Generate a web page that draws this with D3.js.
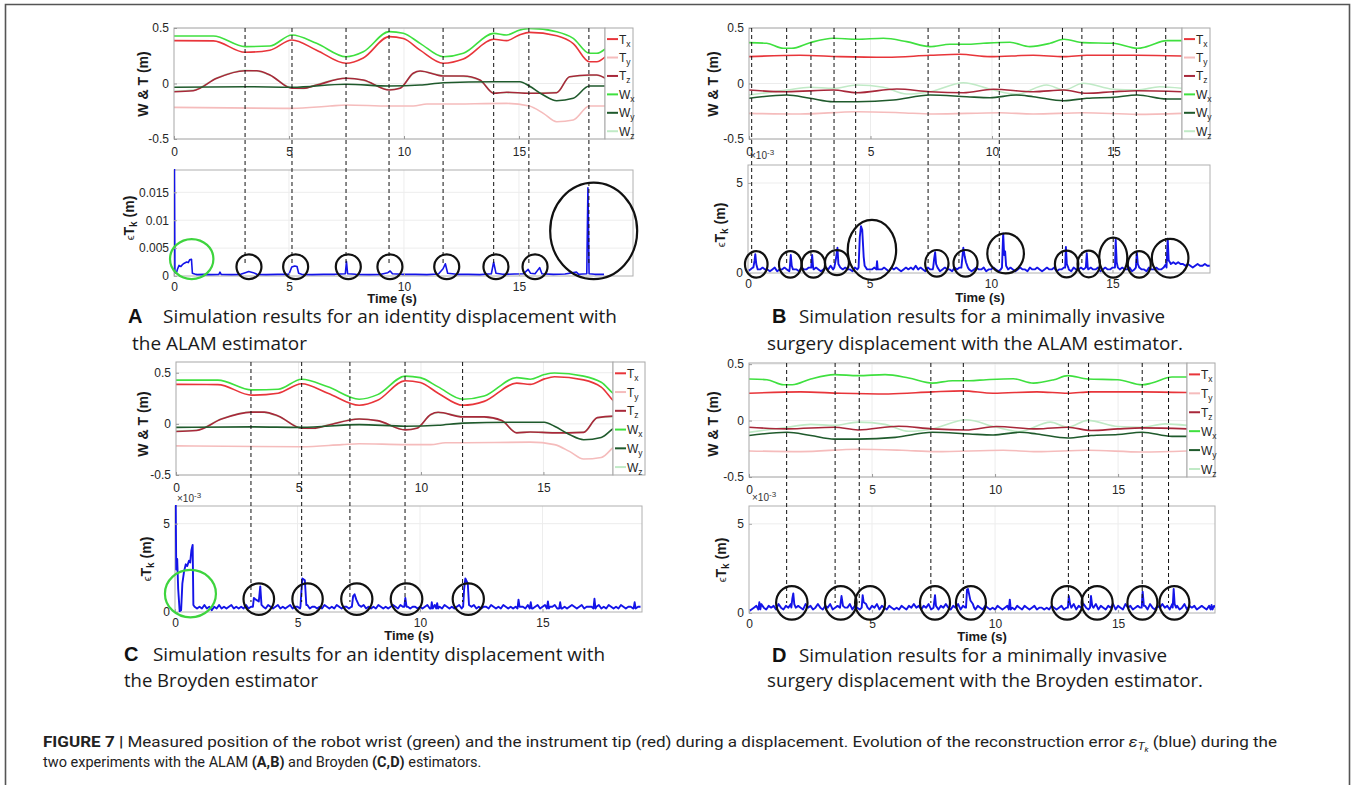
<!DOCTYPE html>
<html>
<head>
<meta charset="utf-8">
<script src="https://cdn.jsdelivr.net/npm/d3@7/dist/d3.min.js"></script>
<style>
html,body{margin:0;padding:0;background:#fff;}
svg{display:block;}
</style>
</head>
<body>
<svg id="fig" width="1352" height="785" xmlns="http://www.w3.org/2000/svg"></svg>
<script>
// ====================== DATA ======================
const timeTicks = [0, 5, 10, 15];
const posTicks = [-0.5, 0, 0.5];
const errTicksA = [0, 0.005, 0.01, 0.015];      // m
const errTicksMilli = [0, 5];                     // x10^-3 m
const legendNames = [["T","x"],["T","y"],["T","z"],["W","x"],["W","y"],["W","z"]];

// ---- identity displacement (panels A and C): position (m) vs time (s)
const id_Tx_t = [0, 1.71, 3.09, 4.17, 5.13, 6.20, 7.48, 8.23, 9.36, 9.97, 10.70, 11.71, 12.58, 13.91, 14.46, 15.04, 15.45, 16.64, 17.36, 18.06, 18.38, 18.75];
const id_Tx_v = [0.386, 0.384, 0.281, 0.300, 0.392, 0.300, 0.182, 0.230, 0.422, 0.405, 0.300, 0.182, 0.220, 0.398, 0.386, 0.440, 0.461, 0.430, 0.360, 0.196, 0.196, 0.241];
const id_Ty_t = [0, 5.13, 6.78, 7.48, 9.36, 10.4, 11.0, 11.71, 14.46, 15.45, 16.06, 16.64, 17.36, 18.06, 18.75];
const id_Ty_v = [-0.215, -0.224, -0.203, -0.194, -0.203, -0.203, -0.185, -0.185, -0.179, -0.203, -0.269, -0.344, -0.329, -0.203, -0.203];
const id_Tz_t = [0, 0.84, 1.86, 3.09, 3.6, 4.17, 5.13, 5.62, 6.20, 7.48, 8.23, 9.36, 9.83, 10.4, 10.7, 11.71, 12.58, 13.3, 13.91, 14.46, 15.45, 16.64, 17.2, 18.06, 18.38, 18.75];
const id_Tz_v = [-0.074, -0.065, 0.047, 0.115, 0.115, 0.077, -0.043, -0.043, -0.014, 0.047, 0.032, -0.059, -0.043, 0.092, 0.113, 0.068, 0.068, 0.032, -0.088, -0.079, -0.088, -0.083, 0.061, 0.077, 0.077, 0.047];
const id_Wx_t = [0, 1.71, 3.09, 4.17, 5.13, 6.20, 7.48, 8.23, 9.36, 9.97, 10.70, 11.71, 12.58, 13.91, 14.46, 15.04, 15.45, 16.64, 17.36, 18.06, 18.38, 18.75];
const id_Wx_v = [0.428, 0.428, 0.332, 0.338, 0.437, 0.362, 0.241, 0.286, 0.467, 0.452, 0.362, 0.241, 0.272, 0.452, 0.437, 0.482, 0.497, 0.467, 0.407, 0.272, 0.272, 0.311];
const id_Wy_t = [0, 3.09, 5.13, 7.48, 9.36, 10.7, 11.71, 13.91, 15.04, 15.45, 16.06, 16.64, 17.36, 18.06, 18.75];
const id_Wy_v = [-0.034, -0.029, -0.034, -0.007, -0.023, -0.014, 0.007, 0.016, 0.016, -0.023, -0.104, -0.155, -0.133, -0.023, -0.023];
const id_Wz_t = [0, 0.84, 1.86, 3.09, 3.6, 4.17, 5.13, 5.62, 6.20, 7.48, 8.23, 9.36, 9.83, 10.4, 10.7, 11.71, 12.58, 13.3, 13.91, 14.46, 15.45, 16.64, 17.2, 18.06, 18.38, 18.75];
const id_Wz_v = [-0.070, -0.060, 0.050, 0.118, 0.112, 0.074, -0.040, -0.046, -0.010, 0.050, 0.028, -0.055, -0.040, 0.088, 0.110, 0.072, 0.064, 0.030, -0.084, -0.082, -0.085, -0.080, 0.058, 0.072, 0.074, 0.050];

// ---- minimally invasive surgery displacement (panels B and D)
const mis_Tx_t = [0, 2.1, 3.74, 5.67, 7.45, 8.68, 9.92, 11.7, 12.96, 13.9, 15.98, 17.81];
const mis_Tx_v = [0.242, 0.254, 0.242, 0.236, 0.254, 0.263, 0.242, 0.254, 0.242, 0.254, 0.254, 0.248];
const mis_Ty_t = [0, 2.1, 4.43, 6.21, 7.59, 10.33, 11.7, 13.76, 15.98, 17.81];
const mis_Ty_v = [-0.269, -0.275, -0.254, -0.263, -0.275, -0.263, -0.275, -0.263, -0.278, -0.269];
const mis_Tz_t = [0, 1.55, 3.47, 4.43, 6.08, 7.45, 8.82, 10.05, 11.7, 12.96, 13.9, 14.99, 15.98, 17.81];
const mis_Tz_v = [-0.059, -0.074, -0.059, -0.083, -0.050, -0.074, -0.083, -0.052, -0.074, -0.059, -0.088, -0.074, -0.065, -0.074];
const mis_Wx_t = [0, 0.73, 1.41, 1.76, 2.51, 3.47, 4.43, 5.53, 6.49, 7.45, 8.27, 8.96, 9.64, 10.74, 11.56, 12.39, 12.96, 13.76, 14.99, 15.98, 16.37, 17.19, 17.81];
const mis_Wx_v = [0.368, 0.362, 0.317, 0.317, 0.368, 0.407, 0.398, 0.407, 0.377, 0.332, 0.353, 0.353, 0.362, 0.371, 0.332, 0.362, 0.398, 0.368, 0.362, 0.317, 0.332, 0.386, 0.386];
const mis_Wy_t = [0, 1.55, 2.51, 3.47, 4.43, 5.94, 7.45, 8.96, 9.92, 11.0, 11.7, 12.96, 13.9, 14.99, 15.98, 17.19, 17.81];
const mis_Wy_v = [-0.133, -0.104, -0.133, -0.164, -0.164, -0.149, -0.104, -0.119, -0.128, -0.104, -0.119, -0.155, -0.133, -0.124, -0.104, -0.140, -0.140];
const mis_Wz_t = [0, 1.55, 2.51, 3.47, 4.43, 5.53, 6.49, 7.45, 8.82, 10.05, 11.0, 12.25, 12.96, 13.76, 14.99, 15.98, 16.91, 17.81];
const mis_Wz_v = [-0.104, -0.059, -0.034, -0.043, -0.014, -0.034, -0.095, -0.074, 0.007, -0.059, -0.097, -0.014, -0.059, 0.002, -0.052, -0.059, -0.029, -0.043];

// ---- dashed event markers (s)
const marks_A = [3.09, 5.13, 7.48, 9.35, 11.7, 13.9, 15.43, 18.04];
const marks_B = [0.11, 1.55, 2.55, 3.5, 4.39, 7.37, 8.64, 10.3, 12.9, 13.7, 14.99, 15.94, 17.15];
const marks_C = [3.06, 5.13, 7.1, 9.35, 11.7];
const marks_D = [1.53, 3.5, 4.48, 7.39, 8.71, 12.98, 13.8, 15.98, 17.05];

// ---- reconstruction error, panel A (t in s, value in x10^-3 m)
const errA_t = [0,0.02,0.04,0.1,0.15,0.22,0.3,0.38,0.45,0.55,0.62,0.68,0.76,0.8,0.9,1.0,1.3,1.6,1.95,2.0,2.05,2.5,2.9,3.1,3.25,3.45,3.6,4.0,4.5,5.0,5.12,5.25,5.35,5.42,5.55,6.0,6.5,7.0,7.45,7.5,7.55,7.9,8.5,9.0,9.3,9.4,9.5,9.9,10.5,11.0,11.5,11.7,11.8,11.9,12.3,12.8,13.3,13.8,13.9,14.0,14.3,14.8,15.2,15.4,15.5,15.7,15.9,16.0,16.5,17.0,17.5,17.6,17.95,18.0,18.05,18.3,18.7];
const errA_v = [19.5,19.5,0.6,0.5,1.2,1.9,1.7,2.1,2.3,2.5,2.4,2.9,3.0,0.5,0.35,0.25,0.3,0.25,0.3,0.7,0.3,0.25,0.3,0.6,0.8,0.6,0.3,0.25,0.3,0.3,1.6,1.8,1.7,0.5,0.3,0.25,0.3,0.3,0.4,2.6,0.4,0.3,0.25,0.3,0.6,0.9,0.4,0.3,0.3,0.25,0.35,1.3,2.2,0.5,0.3,0.3,0.25,0.4,2.5,0.5,0.3,0.35,0.4,1.2,0.5,0.4,1.5,0.4,0.3,0.35,0.7,0.3,0.4,15.8,0.4,0.3,0.3];

// ---- reconstruction error noise floor, panels B, C, D (one sample per 0.1 s from 0 s, x10^-4 m)
const errB_floor = [1,2,3,2,1,2,3,2,2,1, 2,3,1,2,2,3,2,1,3,2, 2,1,3,2,2,3,1,2,3,2, 1,2,3,2,4,2,3,2,1,2, 3,2,2,1,3,2,2,3,1,2, 2,2,3,1,2,2,3,2,1,3, 2,3,2,1,2,3,2,3,2,4, 2,3,2,1,3,2,2,3,2,1, 2,3,2,2,1,3,2,3,2,2, 3,2,1,2,3,2,2,3,1,2, 2,3,2,1,2,3,2,2,3,2, 1,2,3,2,2,1,3,2,2,3, 2,1,2,3,2,2,3,1,2,2, 3,2,2,1,3,2,2,3,2,1, 2,3,2,2,3,1,2,3,2,2, 3,2,1,2,3,2,2,3,1,2, 2,3,2,2,1,3,2,2,3,2, 2,3,5,6,5,6,5,6,5,5, 4,5,4,3,4,5,4,4,5,4, 4];
const errC_floor = [2,2,2,2,2,2,2,2,3,2, 3,2,4,2,3,1,3,2,4,2, 3,2,3,4,2,3,2,3,2,4, 2,3,2,3,3,2,3,2,4,3, 2,3,4,2,3,2,3,4,2,3, 3,2,3,2,4,2,3,3,2,3, 2,4,3,2,3,2,4,3,2,3, 3,2,3,2,3,2,3,4,2,3, 2,3,2,4,3,2,3,2,3,4, 3,2,4,3,2,3,2,3,3,2, 3,2,3,4,2,3,4,2,3,2, 4,3,2,3,2,3,4,2,3,3, 2,3,4,2,3,2,3,3,2,4, 3,2,3,2,4,3,2,3,2,3, 4,3,3,2,4,3,2,3,4,2, 3,4,2,3,3,4,2,3,2,3, 2,3,4,3,2,3,4,2,3,3, 3,2,3,4,2,3,2,4,3,2, 3,2,4,3,2,3,3,2,4,3, 3];
const errD_floor = [1,2,3,4,2,5,3,2,4,3, 4,2,5,3,2,4,3,5,2,3, 4,3,2,5,3,4,2,3,5,3, 2,4,3,5,2,3,4,2,5,3, 3,5,2,4,3,2,5,3,4,2, 4,3,5,2,4,3,2,4,3,2, 3,2,4,3,2,4,3,5,3,4, 2,4,3,5,2,4,3,2,4,3, 5,3,2,4,3,5,2,4,3,4, 3,5,2,4,3,2,4,3,2,3, 2,4,3,2,3,4,2,3,2,4, 3,2,4,3,2,3,4,2,3,3, 2,3,2,4,3,2,3,4,2,3, 4,3,5,2,4,3,5,3,2,4, 3,5,2,4,3,2,4,3,5,2, 4,3,2,5,3,4,2,3,4,3, 3,4,2,5,3,2,4,3,5,3, 4,2,5,3,4,2,3,5,2,4, 3,4,2,3,4,3,2,4,3,4, 3];

// ---- error peaks [t (s), value (x10^-3 m)]
const errB_peaks = [
 [[0.22,0.3],[0.27,0.7],[0.3,1.05],[0.34,0.5],[0.4,0.2]],
 [[1.72,0.3],[1.76,1.0],[1.8,0.4],[1.85,0.2]],
 [[2.6,0.3],[2.64,1.0],[2.68,0.3]],
 [[3.55,0.3],[3.62,0.8],[3.68,1.4],[3.72,0.5],[3.8,0.3]],
 [[4.55,0.3],[4.6,2.0],[4.65,2.6],[4.7,2.4],[4.76,0.9],[4.8,0.4]],
 [[5.28,0.2],[5.31,0.65],[5.34,0.2]],
 [[7.62,0.3],[7.66,0.8],[7.7,1.15],[7.74,0.5],[7.8,0.3]],
 [[8.78,0.3],[8.83,1.0],[8.86,1.4],[8.92,0.9],[8.97,0.6],[9.05,0.3]],
 [[10.45,0.3],[10.5,2.2],[10.54,1.0],[10.58,1.2],[10.62,0.4]],
 [[13.05,0.3],[13.08,1.45],[13.12,0.5],[13.18,0.3]],
 [[13.9,0.3],[13.94,1.1],[13.98,0.3]],
 [[15.1,0.3],[15.13,1.85],[15.17,0.6],[15.22,0.3]],
 [[15.96,0.3],[16.0,1.15],[16.04,0.5],[16.1,0.3]],
 [[17.22,0.3],[17.27,1.9],[17.31,0.7],[17.36,0.6]]
];
const errC_peaks = [
 [[0,6.3],[0.03,6.3],[0.05,2.4],[0.09,3.0],[0.13,1.3],[0.19,0.05],[0.25,0.1],[0.3,1.6],[0.37,2.3],[0.44,2.7],[0.5,2.6],[0.57,2.9],[0.62,2.8],[0.67,3.5],[0.72,3.8],[0.75,0.4]],
 [[3.18,0.3],[3.22,0.8],[3.3,0.7],[3.42,0.6],[3.48,1.45],[3.53,0.4]],
 [[5.12,0.3],[5.16,1.2],[5.2,1.9],[5.3,1.8],[5.36,0.4]],
 [[7.22,0.3],[7.27,0.9],[7.33,1.0],[7.4,0.7],[7.5,0.4]],
 [[9.36,0.3],[9.4,0.8],[9.45,0.3]],
 [[10.45,0.2],[10.48,0.55],[10.52,0.2]],
 [[10.66,0.2],[10.7,0.5],[10.74,0.2]],
 [[11.76,0.3],[11.8,1.3],[11.85,1.9],[11.95,1.6],[12.0,0.4]],
 [[13.98,0.2],[14.02,0.7],[14.06,0.3]],
 [[14.48,0.2],[14.52,0.55],[14.56,0.2]],
 [[15.18,0.2],[15.22,0.6],[15.26,0.2]],
 [[15.68,0.2],[15.72,0.55],[15.76,0.2]],
 [[17.08,0.2],[17.12,0.75],[17.16,0.2]],
 [[18.72,0.2],[18.76,0.55],[18.8,0.2]]
];
const errD_peaks = [
 [[0.38,0.2],[0.42,0.6],[0.46,0.2]],
 [[1.72,0.3],[1.76,0.8],[1.8,1.1],[1.84,0.5],[1.9,0.3]],
 [[3.7,0.3],[3.76,0.95],[3.82,0.4]],
 [[4.58,0.3],[4.62,1.0],[4.66,0.6],[4.76,0.5],[4.82,0.3]],
 [[7.5,0.3],[7.56,1.0],[7.6,0.4]],
 [[8.82,0.3],[8.86,1.3],[8.9,1.35],[9.0,0.7],[9.1,0.5],[9.15,0.3]],
 [[10.56,0.2],[10.6,0.75],[10.64,0.2]],
 [[12.96,0.3],[13.0,0.95],[13.05,0.5],[13.1,0.3]],
 [[13.86,0.3],[13.9,0.95],[13.95,0.4]],
 [[15.96,0.3],[16.0,1.2],[16.05,0.4]],
 [[17.22,0.3],[17.26,1.35],[17.3,0.5],[17.36,0.3]],
 [[18.76,0.2],[18.8,0.45],[18.84,0.2]]
];

// ---- highlighted events (circle centres: t (s), error x10^-3 m)
const circA_green = [[0.77, 3.04]];
const circA_t = [3.26, 5.29, 7.58, 9.39, 11.86, 14.0, 15.7, 18.25];
const circA_v = [1.66, 1.66, 1.66, 1.66, 1.66, 1.66, 1.66, 8.09];
const circB_t = [0.34, 1.74, 2.69, 3.66, 5.1, 7.77, 8.95, 10.6, 13.11, 14.02, 15.03, 16.1, 17.37];
const circB_v = [0.48, 0.48, 0.48, 0.58, 1.28, 0.54, 0.54, 1.09, 0.5, 0.5, 0.85, 0.48, 0.82];
const circC_green = [[0.63, 1.04]];
const circC_t = [3.42, 5.41, 7.42, 9.45, 11.97];
const circC_v = [0.73, 0.73, 0.73, 0.73, 0.73];
const circD_t = [1.74, 3.73, 4.92, 7.56, 9.02, 12.93, 14.15, 15.99, 17.29];
const circD_v = [0.57, 0.57, 0.57, 0.57, 0.57, 0.57, 0.57, 0.57, 0.57];

// ---- texts
const panelTitles = {
  A: ["Simulation results for an identity displacement with", "the ALAM estimator"],
  B: ["Simulation results for a minimally invasive", "surgery displacement with the ALAM estimator."],
  C: ["Simulation results for an identity displacement with", "the Broyden estimator"],
  D: ["Simulation results for a minimally invasive", "surgery displacement with the Broyden estimator."]
};

// ====================== STYLE / LAYOUT ======================
const FONT = "'Liberation Sans', Arial, Helvetica, sans-serif";
const CAPFONT = "'Open Sans', 'Noto Sans', sans-serif";
const NARROW = "'Liberation Sans Narrow', 'Roboto', 'Liberation Sans', sans-serif";
const colors = {Tx:"#e8353a", Ty:"#f5bcbc", Tz:"#a8283a", Wx:"#3fe03f", Wy:"#1f5a2c", Wz:"#c0eac6"};
const drawOrder = ["Ty","Wz","Tz","Wy","Tx","Wx"];
const legendKeys = ["Tx","Ty","Tz","Wx","Wy","Wz"];
const BLUE = "#1414e8";

const svg = d3.select("#fig");
const zip = (t, v) => t.map((d, i) => [d, v[i]]);

svg.append("path").attr("d", "M5.5,790 V4.5 H1349.5 V790")
  .attr("fill","none").attr("stroke","#555").attr("stroke-width",1.6);

let clipId = 0;
function clip(x0, y0, x1, y1) {
  const id = "clip" + (clipId++);
  svg.append("clipPath").attr("id", id).append("rect")
    .attr("x", x0).attr("y", y0).attr("width", x1 - x0).attr("height", y1 - y0);
  return "url(#" + id + ")";
}

function rotLabel(cx, cy, build) {
  const t = svg.append("text").attr("transform", `translate(${cx},${cy}) rotate(-90)`)
    .attr("text-anchor","middle").attr("font-family",FONT).attr("font-weight","bold")
    .attr("font-size",14).attr("fill","#1a1a1a");
  build(t);
}

function drawUpper(L, series) {
  const x = d3.scaleLinear().domain([0, L.xmax]).range([L.x0, L.x1]);
  const y = d3.scaleLinear().domain([L.ymin, L.ymax]).range([L.y1, L.y0]);
  const g = svg.append("g");
  g.selectAll(".gx").data(timeTicks.filter(d => d > 0)).join("line")
    .attr("x1", d => x(d)).attr("x2", d => x(d)).attr("y1", L.y0).attr("y2", L.y1)
    .attr("stroke", "#ececec");
  g.selectAll(".gy").data(posTicks).join("line")
    .attr("x1", L.x0).attr("x2", L.x1).attr("y1", d => y(d)).attr("y2", d => y(d))
    .attr("stroke", "#ececec");
  const line = d3.line().x(d => x(d[0])).y(d => y(d[1])).curve(d3.curveMonotoneX);
  const cg = g.append("g").attr("clip-path", clip(L.x0, L.y0, L.x1, L.y1));
  drawOrder.forEach(k => {
    cg.append("path").datum(series[k]).attr("d", line)
      .attr("fill","none").attr("stroke", colors[k]).attr("stroke-width", 1.6);
  });
  g.append("rect").attr("x", L.x0).attr("y", L.y0).attr("width", L.x1 - L.x0).attr("height", L.y1 - L.y0)
    .attr("fill","none").attr("stroke","#a8a8a8");
  const ax = g.append("g").attr("transform", `translate(0,${L.y1})`)
    .call(d3.axisBottom(x).tickValues(timeTicks).tickFormat(d => String(d)).tickSize(-3).tickPadding(0));
  ax.select(".domain").remove();
  ax.selectAll("line").attr("stroke","#999");
  ax.selectAll("text").attr("y", 12.5).attr("dy","0.35em").attr("font-size",12).attr("font-family",FONT).attr("fill","#262626");
  const ay = g.append("g").attr("transform", `translate(${L.x0},0)`)
    .call(d3.axisLeft(y).tickValues(posTicks).tickFormat(d => String(d)).tickSize(-3).tickPadding(5));
  ay.select(".domain").remove();
  ay.selectAll("line").attr("stroke","#999");
  ay.selectAll("text").attr("font-size",12).attr("font-family",FONT).attr("fill","#262626");
  const lx0 = L.x1;
  g.append("rect").attr("x", lx0).attr("y", L.y0).attr("width", L.legW).attr("height", L.y1 - L.y0)
    .attr("fill","#fff").attr("stroke","#a8a8a8");
  const h = L.y1 - L.y0, first = L.y0 + 0.1 * h, last = L.y1 - 0.07 * h;
  const ly = d3.scalePoint().domain(legendKeys).range([first, last]);
  legendKeys.forEach((k, i) => {
    const yy = ly(k);
    g.append("line").attr("x1", lx0 + 2).attr("x2", lx0 + 13).attr("y1", yy).attr("y2", yy)
      .attr("stroke", colors[k]).attr("stroke-width", 2);
    const t = g.append("text").attr("x", lx0 + 14).attr("y", yy + 4.5)
      .attr("font-family",FONT).attr("font-size",12).attr("fill","#262626");
    t.append("tspan").text(legendNames[i][0]);
    t.append("tspan").attr("dy", 3).attr("font-size", 8.5).text(legendNames[i][1]);
  });
  rotLabel(L.labX, L.labY, t => t.text("W & T (m)"));
  return x;
}

function buildErr(floor, peaks) {
  const pts = [];
  floor.forEach((b, i) => {
    const t = i / 10;
    const inside = peaks.some(gp => t >= gp[0][0] - 1e-9 && t <= gp[gp.length - 1][0] + 1e-9);
    if (!inside) pts.push([t, b / 10]);
  });
  peaks.forEach(gp => gp.forEach(p => pts.push(p)));
  pts.sort((a, b) => a[0] - b[0]);
  return pts;
}

function drawLower(L, pts, yTicks, tickFmt, scaleV, circles, greens, marks, xUp, upTop) {
  const x = d3.scaleLinear().domain([0, L.xmax]).range([L.x0, L.x1]);
  const y = d3.scaleLinear().domain([0, L.ymax]).range([L.y1, L.y0]);
  const g = svg.append("g");
  g.selectAll(".gx").data(timeTicks.filter(d => d > 0)).join("line")
    .attr("x1", d => x(d)).attr("x2", d => x(d)).attr("y1", L.y0).attr("y2", L.y1).attr("stroke", "#ededed");
  g.selectAll(".gy").data(yTicks.filter(d => d > 0)).join("line")
    .attr("x1", L.x0).attr("x2", L.x1).attr("y1", d => y(d)).attr("y2", d => y(d)).attr("stroke", "#ededed");
  g.append("rect").attr("x", L.x0).attr("y", L.y0).attr("width", L.x1 - L.x0).attr("height", L.y1 - L.y0)
    .attr("fill","none").attr("stroke","#b0b0b0");
  const line = d3.line().x(d => x(d[0])).y(d => y(d[1] * scaleV));
  g.append("g").attr("clip-path", clip(L.x0, L.y0 - 1, L.x1, L.y1 + 1))
    .append("path").datum(pts).attr("d", line)
    .attr("fill","none").attr("stroke", BLUE).attr("stroke-width", L.lw).attr("stroke-linejoin","round");
  const ax = g.append("g").attr("transform", `translate(0,${L.y1})`)
    .call(d3.axisBottom(x).tickValues(timeTicks).tickFormat(d => String(d)).tickSize(-3).tickPadding(0));
  ax.select(".domain").remove();
  ax.selectAll("line").attr("stroke","#aaa");
  ax.selectAll("text").attr("y", 10.5).attr("dy","0.35em").attr("font-size",12).attr("font-family",FONT).attr("fill","#262626");
  const ay = g.append("g").attr("transform", `translate(${L.x0},0)`)
    .call(d3.axisLeft(y).tickValues(yTicks).tickFormat(tickFmt).tickSize(-3).tickPadding(5));
  ay.select(".domain").remove();
  ay.selectAll("line").attr("stroke","#aaa");
  ay.selectAll("text").attr("font-size",12).attr("font-family",FONT).attr("fill","#262626");
  g.selectAll(".mk").data(marks).join("line")
    .attr("x1", d => xUp(d)).attr("x2", d => xUp(d)).attr("y1", upTop).attr("y2", L.y1 - 10)
    .attr("stroke","#111").attr("stroke-width",1).attr("stroke-dasharray","4,3");
  g.selectAll(".ci").data(circles).join("ellipse")
    .attr("cx", d => x(d[0])).attr("cy", d => y(d[1] * scaleV)).attr("rx", d => d[2]).attr("ry", d => d[3])
    .attr("fill","none").attr("stroke","#111").attr("stroke-width",2.2);
  g.selectAll(".cg").data(greens).join("ellipse")
    .attr("cx", d => x(d[0])).attr("cy", d => y(d[1] * scaleV)).attr("rx", d => d[2]).attr("ry", d => d[3])
    .attr("fill","none").attr("stroke","#3ed43e").attr("stroke-width",2.2);
  rotLabel(L.labX, L.labY, t => {
    t.append("tspan").attr("font-weight","normal").attr("font-size",11).text("\u03F5");
    t.append("tspan").text("T");
    t.append("tspan").attr("dy",3).attr("font-size",10).text("k");
    t.append("tspan").attr("dy",-3).text(" (m)");
  });
  svg.append("text").attr("x", L.timeX).attr("y", L.timeY).attr("text-anchor","middle")
    .attr("font-family",FONT).attr("font-weight","bold").attr("font-size",13).attr("fill","#1a1a1a").text("Time (s)");
  if (L.expX !== undefined) {
    const t = svg.append("text").attr("x", L.expX).attr("y", L.expY)
      .attr("font-family",FONT).attr("font-size",10).attr("fill","#333");
    t.append("tspan").text("\u00D710");
    t.append("tspan").attr("dy",-4).attr("font-size",8).text("-3");
  }
}

function seriesOf(prefix) {
  const src = prefix === "id"
    ? {Tx:[id_Tx_t,id_Tx_v],Ty:[id_Ty_t,id_Ty_v],Tz:[id_Tz_t,id_Tz_v],Wx:[id_Wx_t,id_Wx_v],Wy:[id_Wy_t,id_Wy_v],Wz:[id_Wz_t,id_Wz_v]}
    : {Tx:[mis_Tx_t,mis_Tx_v],Ty:[mis_Ty_t,mis_Ty_v],Tz:[mis_Tz_t,mis_Tz_v],Wx:[mis_Wx_t,mis_Wx_v],Wy:[mis_Wy_t,mis_Wy_v],Wz:[mis_Wz_t,mis_Wz_v]};
  const o = {};
  Object.keys(src).forEach(k => o[k] = zip(src[k][0], src[k][1]));
  return o;
}

function withR(t, v, rx, ry) { return t.map((d, i) => [d, v[i], rx[i], ry[i]]); }

// ----- Panel A
const xA = drawUpper({x0:174,x1:605,y0:28,y1:139,xmax:18.74,ymin:-0.5,ymax:0.5,legW:28,labX:148,labY:84}, seriesOf("id"));
drawLower({x0:174,x1:633,y0:170,y1:276,xmax:19.96,ymax:0.019,labX:134,labY:218,timeX:392,timeY:302.5,lw:1.6},
  zip(errA_t, errA_v), errTicksA, d => String(d), 0.001,
  withR(circA_t, circA_v, [12.5,12.5,12.5,12.5,12.5,12.5,12.5,43.5], [12.3,12.3,12.3,12.3,12.3,12.3,12.3,48.3]),
  circA_green.map(d => [d[0], d[1], 21.7, 20]), marks_A, xA, 28);

// ----- Panel B
const xB = drawUpper({x0:749,x1:1182,y0:28,y1:139,xmax:17.82,ymin:-0.5,ymax:0.5,legW:28,labX:718,labY:84}, seriesOf("mis"));
drawLower({x0:748,x1:1210,y0:165,y1:273,xmax:19.01,ymax:6,labX:725,labY:225,timeX:980,timeY:302,expX:750,expY:159,lw:1.9},
  buildErr(errB_floor, errB_peaks), errTicksMilli, d => String(d), 1,
  withR(circB_t, circB_v, [11.3,11.3,11.7,12,24.2,11.7,12,18.3,11.7,11.2,14,11.5,18.3], [13.3,13.3,13.3,12.5,30,13.3,13.3,20,13.3,13.3,20,13.3,19.3]),
  [], marks_B, xB, 28);

// ----- Panel C
const xC = drawUpper({x0:176,x1:613,y0:362,y1:475,xmax:17.84,ymin:-0.5,ymax:0.605,legW:32,labX:148,labY:424}, seriesOf("id"));
drawLower({x0:175,x1:642,y0:506,y1:612,xmax:19.06,ymax:6,labX:151,labY:559,timeX:409,timeY:640,expX:177,expY:502,lw:1.9},
  buildErr(errC_floor, errC_peaks), errTicksMilli, d => String(d), 1,
  withR(circC_t, circC_v, [15.3,15.2,15.6,15.8,15.6], [15.8,15.8,15.8,15.8,15.8]),
  circC_green.map(d => [d[0], d[1], 25.5, 23.7]), marks_C, xC, 362);

// ----- Panel D
const xD = drawUpper({x0:749,x1:1187,y0:363,y1:477,xmax:17.8,ymin:-0.5,ymax:0.51,legW:28,labX:718,labY:424}, seriesOf("mis"));
drawLower({x0:749,x1:1215,y0:506,y1:613,xmax:18.94,ymax:6,labX:726,labY:560,timeX:982,timeY:641,expX:752,expY:501,lw:1.9},
  buildErr(errD_floor, errD_peaks), errTicksMilli, d => String(d), 1,
  withR(circD_t, circD_v, [15.7,15.8,15,15,15,15.5,15.5,15,15], [16.7,16.7,16.7,16.7,16.7,16.7,16.7,16.7,16.7]),
  [], marks_D, xD, 363);

// ----- panel captions
function caption(letter, lx, y1, x1, w1, y2, x2, w2, lines) {
  svg.append("text").attr("x", lx).attr("y", y1).attr("font-family",FONT).attr("font-weight","bold")
    .attr("font-size",20).attr("fill","#111").text(letter);
  svg.append("text").attr("x", x1).attr("y", y1).attr("font-family",CAPFONT).attr("font-size",18)
    .attr("fill","#1a1a1a").attr("textLength", w1).attr("lengthAdjust","spacingAndGlyphs").text(lines[0]);
  svg.append("text").attr("x", x2).attr("y", y2).attr("font-family",CAPFONT).attr("font-size",18)
    .attr("fill","#1a1a1a").attr("textLength", w2).attr("lengthAdjust","spacingAndGlyphs").text(lines[1]);
}
caption("A", 128, 323, 163, 454, 350, 132, 175, panelTitles.A);
caption("B", 772, 323, 799, 366, 349.5, 767, 416, panelTitles.B);
caption("C", 124, 661, 153, 452, 687, 124, 194, panelTitles.C);
caption("D", 772, 661.5, 799, 368, 687, 767, 436, panelTitles.D);

// ----- figure caption
const c1 = svg.append("text").attr("x", 43).attr("y", 746.5).attr("font-family", NARROW)
  .attr("font-size", 14.5).attr("fill", "#222").attr("textLength", 1234).attr("lengthAdjust", "spacingAndGlyphs");
c1.append("tspan").attr("font-weight","bold").text("FIGURE 7 | ");
c1.append("tspan").text("Measured position of the robot wrist (green) and the instrument tip (red) during a displacement. Evolution of the reconstruction error ");
c1.append("tspan").attr("font-style","italic").text("\u03B5");
c1.append("tspan").attr("font-style","italic").attr("font-size",10).attr("dy",3).text("T");
c1.append("tspan").attr("font-style","italic").attr("font-size",7).attr("dy",2).text("k");
c1.append("tspan").attr("dy",-5).text(" (blue) during the");

const c2 = svg.append("text").attr("x", 43).attr("y", 766.5).attr("font-family", NARROW)
  .attr("font-size", 14.5).attr("fill", "#222");
c2.append("tspan").text("two experiments with the ALAM ");
c2.append("tspan").attr("font-weight","bold").text("(A,B)");
c2.append("tspan").text(" and Broyden ");
c2.append("tspan").attr("font-weight","bold").text("(C,D)");
c2.append("tspan").text(" estimators.");
</script>
</body>
</html>
